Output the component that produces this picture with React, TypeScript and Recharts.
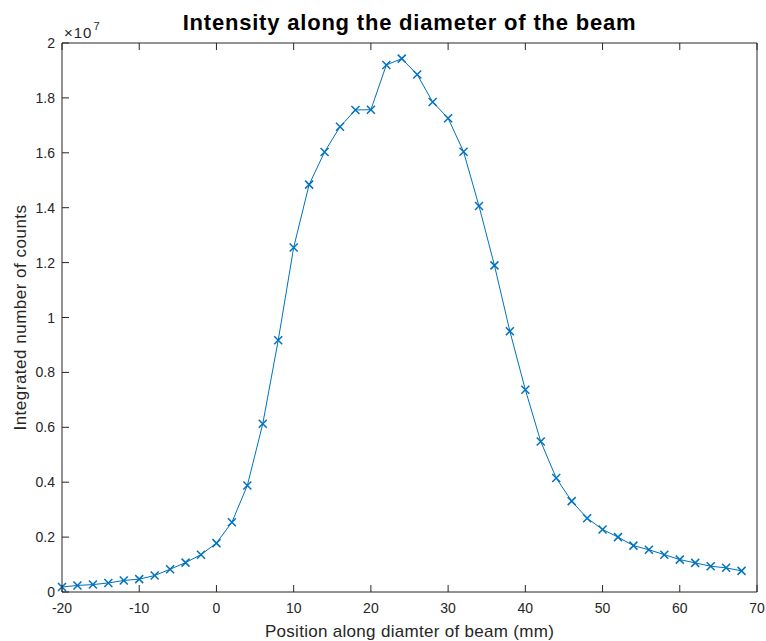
import React from 'react';
import { LineChart, Line, XAxis, YAxis } from 'recharts';

const positions = [
  -20, -18, -16, -14, -12, -10, -8, -6, -4, -2, 0, 2, 4, 6, 8, 10, 12, 14, 16, 18, 20, 22,
  24, 26, 28, 30, 32, 34, 36, 38, 40, 42, 44, 46, 48, 50, 52, 54, 56, 58, 60, 62, 64, 66, 68,
];
// integrated counts, in units of 1e7
const countsE7 = [
  0.018, 0.024, 0.027, 0.033, 0.042, 0.047, 0.06, 0.083, 0.107, 0.136, 0.178, 0.254, 0.388,
  0.613, 0.917, 1.255, 1.484, 1.603, 1.695, 1.756, 1.757, 1.92, 1.943, 1.885, 1.785, 1.726,
  1.604, 1.406, 1.19, 0.95, 0.737, 0.548, 0.415, 0.331, 0.269, 0.228, 0.2, 0.169, 0.154,
  0.136, 0.118, 0.106, 0.094, 0.088, 0.077,
];
const xTicks = [-20, -10, 0, 10, 20, 30, 40, 50, 60, 70];
const yTicks = [0, 2e6, 4e6, 6e6, 8e6, 1e7, 1.2e7, 1.4e7, 1.6e7, 1.8e7, 2e7];
const yTickLabels = ['0', '0.2', '0.4', '0.6', '0.8', '1', '1.2', '1.4', '1.6', '1.8', '2'];

const data = positions.map((p, i) => ({ x: p, y: countsE7[i] * 1e7 }));

const FONT = '"Liberation Sans", Arial, Helvetica, sans-serif';
const AXIS = '#262626';
const BLUE = '#0072BD';
const TL = 7;

// tickSize = 0 and tickMargin = 0: the (x, y) given to each tick lies on the axis line
const renderBottomTick = (props: any) => {
  const { x, y, payload, index } = props;
  return (
    <g key={`bt-${index}`}>
      <line x1={x} y1={y} x2={x} y2={y - TL} stroke={AXIS} strokeWidth={1} />
      <text x={x} y={y + 21} textAnchor="middle" fontSize={14} fill={AXIS} fontFamily={FONT}>
        {String(payload.value)}
      </text>
    </g>
  );
};

const renderTopTick = (props: any) => {
  const { x, y, index } = props;
  return (
    <g key={`tt-${index}`}>
      <line x1={x} y1={y} x2={x} y2={y + TL} stroke={AXIS} strokeWidth={1} />
    </g>
  );
};

const renderLeftTick = (props: any) => {
  const { x, y, payload, index } = props;
  const idx = yTicks.indexOf(payload.value);
  const label = idx >= 0 ? yTickLabels[idx] : '';
  return (
    <g key={`lt-${index}`}>
      <line x1={x} y1={y} x2={x + TL} y2={y} stroke={AXIS} strokeWidth={1} />
      <text x={x - 7} y={y + 5} textAnchor="end" fontSize={14} fill={AXIS} fontFamily={FONT}>
        {label}
      </text>
      {payload.value === 2e7 ? (
        <text x={x + 2} y={y - 5} fontSize={15} letterSpacing={1} fill={AXIS} fontFamily={FONT}>
          {'\u00d710'}
          <tspan fontSize={11} dy={-8} dx={1}>
            7
          </tspan>
        </text>
      ) : null}
    </g>
  );
};

const renderRightTick = (props: any) => {
  const { x, y, index } = props;
  return (
    <g key={`rt-${index}`}>
      <line x1={x} y1={y} x2={x - TL} y2={y} stroke={AXIS} strokeWidth={1} />
    </g>
  );
};

const renderCross = (props: any) => {
  const { cx, cy, index } = props;
  const s = 4;
  return (
    <path
      key={`dot-${index}`}
      d={`M${cx - s},${cy - s}L${cx + s},${cy + s}M${cx - s},${cy + s}L${cx + s},${cy - s}`}
      stroke={BLUE}
      strokeWidth={1.5}
      fill="none"
    />
  );
};

export default function App() {
  return (
    <div style={{ position: 'absolute', left: 0, top: 0, width: 766, height: 641, background: '#fff' }}>
      <LineChart
        width={766}
        height={641}
        data={data}
        margin={{ top: 42, right: 8, bottom: 0, left: 0 }}
        style={{ fontFamily: FONT, overflow: 'visible' }}
      >
        <XAxis
          xAxisId="bottom"
          dataKey="x"
          type="number"
          domain={[-20, 70]}
          ticks={xTicks}
          interval={0}
          height={49}
          tickSize={0}
          tickMargin={0}
          tickLine={false}
          axisLine={{ stroke: AXIS, strokeWidth: 1 }}
          tick={renderBottomTick}
          label={{
            value: 'Position along diamter of beam (mm)',
            position: 'insideBottom',
            offset: 4,
            fontSize: 17,
            letterSpacing: 0.3,
            fill: AXIS,
            fontFamily: FONT,
          }}
        />
        <XAxis
          xAxisId="top"
          orientation="top"
          dataKey="x"
          type="number"
          domain={[-20, 70]}
          ticks={xTicks}
          interval={0}
          height={1}
          tickSize={0}
          tickMargin={0}
          tickLine={false}
          axisLine={{ stroke: AXIS, strokeWidth: 1 }}
          tick={renderTopTick}
          label={{
            value: 'Intensity along the diameter of the beam',
            position: 'top',
            offset: 12,
            fontSize: 22,
            letterSpacing: 0.8,
            fontWeight: 'bold',
            fill: '#000',
            fontFamily: FONT,
          }}
        />
        <YAxis
          yAxisId="left"
          type="number"
          domain={[0, 2e7]}
          ticks={yTicks}
          interval={0}
          width={62}
          tickSize={0}
          tickMargin={0}
          tickLine={false}
          axisLine={{ stroke: AXIS, strokeWidth: 1 }}
          tick={renderLeftTick}
          label={{
            value: 'Integrated number of counts',
            angle: -90,
            position: 'insideLeft',
            offset: 20,
            fontSize: 17,
            letterSpacing: 0.5,
            fill: AXIS,
            fontFamily: FONT,
            style: { textAnchor: 'middle' },
          }}
        />
        <YAxis
          yAxisId="right"
          orientation="right"
          type="number"
          domain={[0, 2e7]}
          ticks={yTicks}
          interval={0}
          width={1}
          tickSize={0}
          tickMargin={0}
          tickLine={false}
          axisLine={{ stroke: AXIS, strokeWidth: 1 }}
          tick={renderRightTick}
        />
        <Line
          xAxisId="bottom"
          yAxisId="left"
          type="linear"
          dataKey="y"
          stroke={BLUE}
          strokeWidth={1}
          dot={renderCross}
          activeDot={false}
          isAnimationActive={false}
        />
      </LineChart>
    </div>
  );
}
